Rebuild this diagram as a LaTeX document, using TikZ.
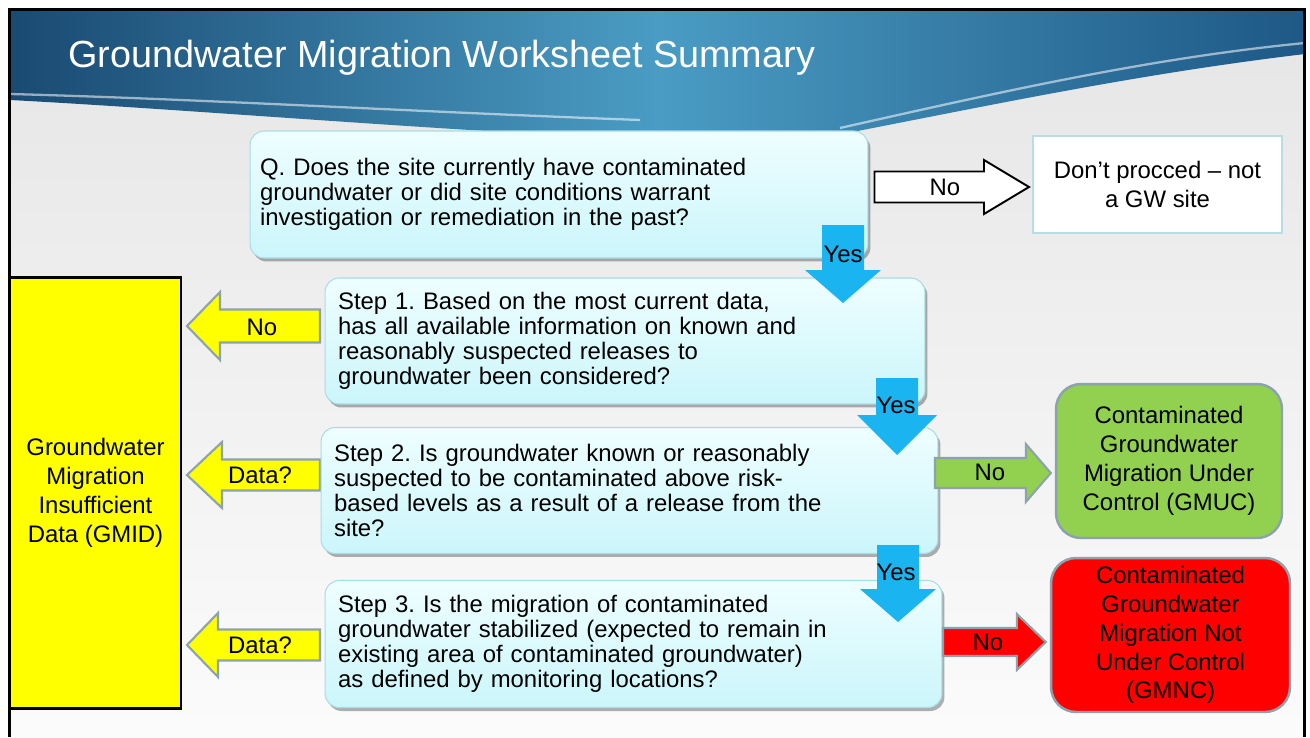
\documentclass[tikz,border=0pt]{standalone}
\usepackage{fontspec}
\setmainfont{Liberation Sans}
\usetikzlibrary{calc,shadows}
\frenchspacing

\definecolor{hdrL}{HTML}{1A4A72}
\definecolor{hdrM}{HTML}{4A9CC4}
\definecolor{hdrR}{HTML}{1E5886}
\definecolor{stepT}{HTML}{EEFEFF}
\definecolor{stepB}{HTML}{CBF6FB}
\definecolor{stepline}{HTML}{A9DCE4}
\definecolor{dontline}{HTML}{B7DEE6}
\definecolor{arrline}{HTML}{8CA3AD}
\definecolor{yesblue}{HTML}{1AB4F0}
\definecolor{okgreen}{HTML}{92D050}
\definecolor{badred}{HTML}{FF0000}
\definecolor{gmidyellow}{HTML}{FFFF00}

% text sizes (one drawing unit = 0.02cm)
\newcommand\bodyfont{\fontsize{13.6}{14.3}\selectfont}
\newcommand\widefont{\fontsize{13.6}{16.4}\selectfont}

% block arrows: #1 style, #2 tail, #3 tip, #4 body half width, #5 head half width, #6 head length
\newcommand\blockR[6]{\path[#1] ($#2+(0,-#4)$) -- ($#3+(-#6,-#4)$) -- ($#3+(-#6,-#5)$) -- #3
  -- ($#3+(-#6,#5)$) -- ($#3+(-#6,#4)$) -- ($#2+(0,#4)$) -- cycle;}
\newcommand\blockL[6]{\path[#1] ($#2+(0,-#4)$) -- ($#3+(#6,-#4)$) -- ($#3+(#6,-#5)$) -- #3
  -- ($#3+(#6,#5)$) -- ($#3+(#6,#4)$) -- ($#2+(0,#4)$) -- cycle;}
\newcommand\blockD[6]{\path[#1] ($#2+(-#4,0)$) -- ($#3+(-#4,-#6)$) -- ($#3+(-#5,-#6)$) -- #3
  -- ($#3+(#5,-#6)$) -- ($#3+(#4,-#6)$) -- ($#2+(#4,0)$) -- cycle;}

\tikzset{
  stepbox/.style={draw=stepline, line width=0.6pt, rounded corners=8pt,
    top color=stepT, bottom color=stepB, align=left, font=\bodyfont,
    drop shadow={shadow xshift=0.05cm, shadow yshift=-0.07cm, opacity=0.3, fill=black}},
  resultbox/.style={draw=arrline, line width=1.4pt, rounded corners=0.5cm,
    align=center, font=\widefont, inner sep=0pt},
  lbl/.style={font=\bodyfont, inner sep=0pt},
  yesarrow/.style={fill=yesblue},
  sidearrow/.style={draw=arrline, line width=1.2pt, line join=miter},
}

\begin{document}
\begin{tikzpicture}[x=0.02cm, y=-0.02cm]
\useasboundingbox (0,0) rectangle (1310,737);
\fill[white] (0,0) rectangle (1310,737);

% slide background and header band
\shade[top color=gray!20, bottom color=gray!3] (10,10) rectangle (1305,737);
\shade[left color=hdrL, right color=hdrR, middle color=hdrM]
  (10,10) -- (1305,10) -- (1305,54)
  .. controls (1120,76) and (960,112) .. (800,142) -- (700,142)
  .. controls (450,132) and (200,110) .. (10,100) -- cycle;
\draw[white, opacity=0.55, line width=1.3pt]
  (10,94) .. controls (200,99) and (420,112) .. (640,120);
\draw[white, opacity=0.55, line width=1.3pt]
  (1305,43) .. controls (1150,58) and (1000,92) .. (840,128);

% frame
\draw[black, line width=1.7pt] (9.5,737) -- (9.5,9.5) -- (1304.5,9.5) -- (1304.5,737);

\node[anchor=base west, text=white, inner sep=0pt, font=\fontsize{21.5}{24}\selectfont]
  (title) at (68,67) {Groundwater Migration Worksheet Summary};

% left-hand result
\node[draw=black, line width=1.2pt, fill=gmidyellow, minimum width=3.42cm, minimum height=8.62cm,
  align=center, font=\widefont, inner sep=0pt] (gmid) at (95.5,493)
  {Groundwater\\Migration\\Insufficient\\Data (GMID)};

% side arrows into GMID
\coordinate (t1) at (320,326);  \coordinate (h1) at (187,326);
\coordinate (t2) at (320,475);  \coordinate (h2) at (187,475);
\coordinate (t3) at (320,645);  \coordinate (h3) at (187,645);
\blockL{sidearrow, fill=gmidyellow}{(t1)}{(h1)}{16.5}{34}{33}
\blockL{sidearrow, fill=gmidyellow}{(t2)}{(h2)}{15.5}{33}{35}
\blockL{sidearrow, fill=gmidyellow}{(t3)}{(h3)}{15.5}{32}{31}
\node[lbl] (l1) at (262,327) {No};
\node[lbl] (l2) at (260,475) {Data?};
\node[lbl] (l3) at (260,645) {Data?};

% question boxes
\node[stepbox, minimum width=12.36cm, minimum height=2.54cm, text width=11.96cm, inner xsep=0.2cm]
  (q) at (559,194.5)
  {Q. Does the site currently have contaminated\\groundwater or did site conditions warrant\\investigation or remediation in the past?};
\node[stepbox, minimum width=12cm, minimum height=2.52cm, text width=11.48cm, inner xsep=0.26cm]
  (s1) at (625,341)
  {Step 1. Based on the most current data,\\has all available information on known and\\reasonably suspected releases to\\groundwater been considered?};
\node[stepbox, minimum width=12.34cm, minimum height=2.52cm, text width=11.82cm, inner xsep=0.26cm]
  (s2) at (629.5,490.5)
  {Step 2. Is groundwater known or reasonably\\suspected to be contaminated above risk-\\based levels as a result of a release from the\\site?};
\node[stepbox, minimum width=12.34cm, minimum height=2.54cm, text width=11.82cm, inner xsep=0.26cm]
  (s3) at (633.5,644)
  {Step 3. Is the migration of contaminated\\groundwater stabilized (expected to remain in\\existing area of contaminated groundwater)\\as defined by monitoring locations?};

% right-hand results
\node[draw=dontline, line width=1.2pt, fill=white, minimum width=4.98cm, minimum height=1.94cm,
  align=center, font=\widefont, inner sep=0pt] (dont) at (1157.5,184.5)
  {Don’t procced – not\\a GW site};
\node[resultbox, fill=okgreen, minimum width=4.52cm, minimum height=3.08cm] (gmuc) at (1169,461)
  {Contaminated\\Groundwater\\Migration Under\\Control (GMUC)};
\node[resultbox, fill=badred, minimum width=4.78cm, minimum height=3.08cm] (gmnc) at (1170.5,635)
  {Contaminated\\Groundwater\\Migration Not\\Under Control\\(GMNC)};

% "No" arrows to the right
\coordinate (tq) at ($(q.east |- 0,187)+(6,0)$);  \coordinate (hq) at ($(dont.west |- 0,187)+(-3,0)$);
\coordinate (tg) at (935,473);  \coordinate (hg) at ($(gmuc.west |- 0,473)+(-4,0)$);
\coordinate (tr) at (943,642);  \coordinate (hr) at ($(gmnc.west |- 0,642)+(-4,0)$);
\blockR{draw=black, line width=1.1pt, fill=white, line join=miter}{(tq)}{(hq)}{15.5}{27}{45}
\blockR{sidearrow, fill=okgreen}{(tg)}{(hg)}{15}{29}{25}
\blockR{sidearrow, fill=badred}{(tr)}{(hr)}{14}{28}{29}
\node[lbl] (lq) at (945,187) {No};
\node[lbl] (lg) at (990,472) {No};
\node[lbl] (lr) at (988,642) {No};

% "Yes" arrows downwards
\coordinate (y1t) at (843,225);  \coordinate (y1h) at (843,303);
\coordinate (y2t) at (897,378);  \coordinate (y2h) at (897,455);
\coordinate (y3t) at (898,545);  \coordinate (y3h) at (898,622);
\blockD{yesarrow}{(y1t)}{(y1h)}{21}{38}{33}
\blockD{yesarrow}{(y2t)}{(y2h)}{21}{40}{40}
\blockD{yesarrow}{(y3t)}{(y3h)}{21}{38}{33}
\node[lbl] (ly1) at (843,254) {Yes};
\node[lbl] (ly2) at (896,405) {Yes};
\node[lbl] (ly3) at (896,572) {Yes};
\end{tikzpicture}
\end{document}
